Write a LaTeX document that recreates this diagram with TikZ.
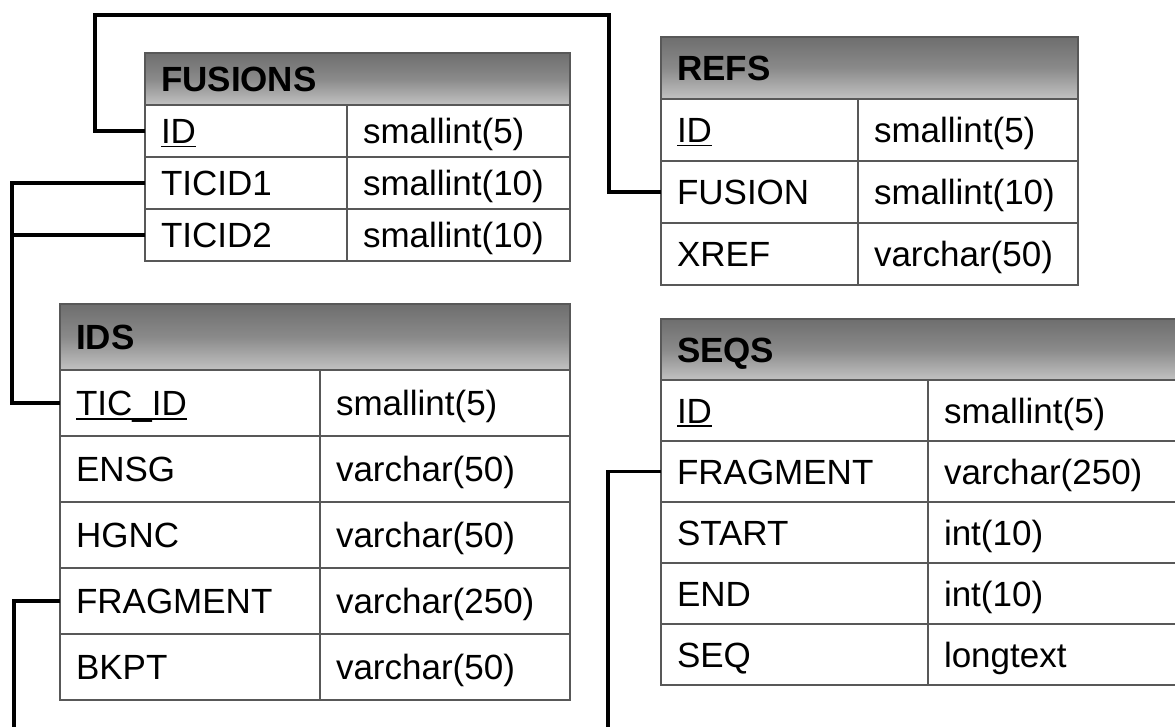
\documentclass[tikz,border=0pt]{standalone}
\usepackage{fontspec}
\setmainfont{Liberation Sans}
\definecolor{bord}{RGB}{88,88,88}
\definecolor{hdtop}{RGB}{110,110,110}
\definecolor{hdmid}{RGB}{138,138,138}
\definecolor{hdbot}{RGB}{194,194,194}
\newcommand\keyul[1]{\setbox0=\hbox{#1}\rlap{\rule[-4pt]{\wd0}{1.8pt}}\box0}
\tikzset{
  base/.style={draw=bord, line width=1.6pt, rectangle, anchor=north west, outer sep=0pt,
    inner xsep=16pt, inner ysep=0pt, text height=25pt, text depth=0pt, align=left,
    font=\fontsize{35}{40}\selectfont},
  hdr/.style={base, top color=hdtop, bottom color=hdbot, middle color=hdmid,
    font=\fontsize{35}{40}\selectfont\bfseries},
  conn/.style={draw=black, line width=3.2pt, line join=miter}
}
\begin{document}
\begin{tikzpicture}[x=1pt,y=-1pt]
\useasboundingbox (0,0) rectangle (1175,727);
\fill[white] (0,0) rectangle (1175,727);
\clip (0,0) rectangle (1175,727);

% FUSIONS
\node[hdr, text width=393pt, minimum height=52pt] (fus) at (145,53) {FUSIONS};
\node[base, text width=170pt, minimum height=52pt] (fus-id) at (145,105) {\keyul{ID}};
\node[base, text width=191pt, minimum height=52pt] (fus-idt) at (347,105) {smallint(5)};
\node[base, text width=170pt, minimum height=52pt] (fus-t1) at (145,157) {TICID1};
\node[base, text width=191pt, minimum height=52pt] (fus-t1t) at (347,157) {smallint(10)};
\node[base, text width=170pt, minimum height=52pt] (fus-t2) at (145,209) {TICID2};
\node[base, text width=191pt, minimum height=52pt] (fus-t2t) at (347,209) {smallint(10)};

% REFS
\node[hdr, text width=385pt, minimum height=62pt] (refs) at (661,37) {REFS};
\node[base, text width=165pt, minimum height=62pt] (refs-id) at (661,99) {\keyul{ID}};
\node[base, text width=188pt, minimum height=62pt] (refs-idt) at (858,99) {smallint(5)};
\node[base, text width=165pt, minimum height=62pt] (refs-fus) at (661,161) {FUSION};
\node[base, text width=188pt, minimum height=62pt] (refs-fust) at (858,161) {smallint(10)};
\node[base, text width=165pt, minimum height=62pt] (refs-x) at (661,223) {XREF};
\node[base, text width=188pt, minimum height=62pt] (refs-xt) at (858,223) {varchar(50)};

% IDS
\node[hdr, text width=478pt, minimum height=66pt] (ids) at (60,304) {IDS};
\node[base, text width=228pt, minimum height=66pt] (ids-tic) at (60,370) {\keyul{TIC\_ID}};
\node[base, text width=218pt, minimum height=66pt] (ids-tict) at (320,370) {smallint(5)};
\node[base, text width=228pt, minimum height=66pt] (ids-ensg) at (60,436) {ENSG};
\node[base, text width=218pt, minimum height=66pt] (ids-ensgt) at (320,436) {varchar(50)};
\node[base, text width=228pt, minimum height=66pt] (ids-hgnc) at (60,502) {HGNC};
\node[base, text width=218pt, minimum height=66pt] (ids-hgnct) at (320,502) {varchar(50)};
\node[base, text width=228pt, minimum height=66pt] (ids-frag) at (60,568) {FRAGMENT};
\node[base, text width=218pt, minimum height=66pt] (ids-fragt) at (320,568) {varchar(250)};
\node[base, text width=228pt, minimum height=66pt] (ids-bkpt) at (60,634) {BKPT};
\node[base, text width=218pt, minimum height=66pt] (ids-bkptt) at (320,634) {varchar(50)};

% SEQS
\node[hdr, text width=502pt, minimum height=61pt] (seqs) at (661,319) {SEQS};
\node[base, text width=235pt, minimum height=61pt] (seqs-id) at (661,380) {\keyul{ID}};
\node[base, text width=235pt, minimum height=61pt] (seqs-idt) at (928,380) {smallint(5)};
\node[base, text width=235pt, minimum height=61pt] (seqs-frag) at (661,441) {FRAGMENT};
\node[base, text width=235pt, minimum height=61pt] (seqs-fragt) at (928,441) {varchar(250)};
\node[base, text width=235pt, minimum height=61pt] (seqs-start) at (661,502) {START};
\node[base, text width=235pt, minimum height=61pt] (seqs-startt) at (928,502) {int(10)};
\node[base, text width=235pt, minimum height=61pt] (seqs-end) at (661,563) {END};
\node[base, text width=235pt, minimum height=61pt] (seqs-endt) at (928,563) {int(10)};
\node[base, text width=235pt, minimum height=61pt] (seqs-seq) at (661,624) {SEQ};
\node[base, text width=235pt, minimum height=61pt] (seqs-seqt) at (928,624) {longtext};

% connectors
\coordinate (tl) at (95,15);
\coordinate (tr) at (609,15);
\coordinate (tk) at (12,0);
\coordinate (b1) at (14,740);
\coordinate (b2) at (608,740);
\draw[conn] (fus-id.west) -| (tl) -- (tr) |- (refs-fus.west);
\draw[conn] (fus-t1.west) -| (tk |- ids-tic.west) -- (ids-tic.west);
\draw[conn] (fus-t2.west) -- (tk |- fus-t2.west);
\draw[conn] (ids-frag.west) -| (b1);
\draw[conn] (seqs-frag.west) -| (b2);
\end{tikzpicture}
\end{document}
